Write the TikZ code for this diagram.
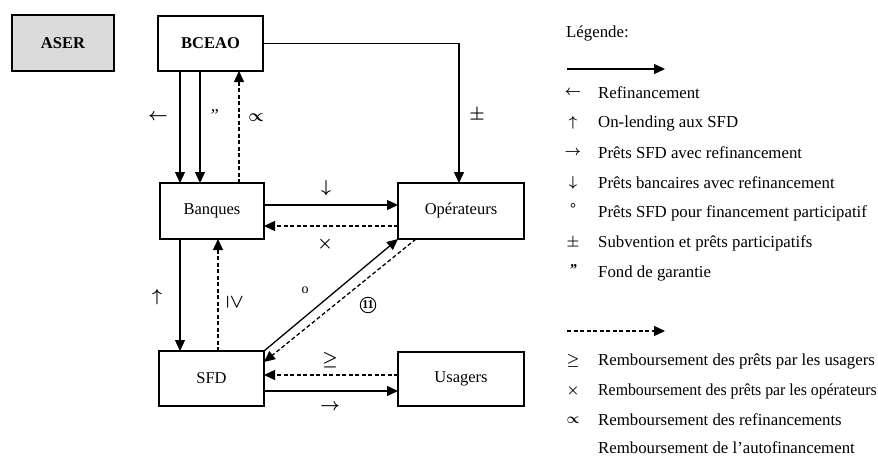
\documentclass[tikz,border=0pt]{standalone}
\usepackage{fontspec}
\usepackage{graphicx}
\setmainfont{Liberation Serif}
\usetikzlibrary{arrows.meta}
\begin{document}
\begin{tikzpicture}[x=1pt,y=-1pt,
  box/.style={draw,line width=1.1pt,outer sep=0pt,inner sep=0pt,font=\fontsize{16.5}{18}\selectfont},
  sarr/.style={line width=1.3pt,-{Triangle[length=11pt,width=10pt]}},
  darr/.style={line width=1.3pt,dash pattern=on 4pt off 2.5pt,-{Triangle[length=11pt,width=10pt]}},
  lab/.style={inner sep=0pt,font=\fontsize{18}{18}\selectfont\boldmath},
  lsym/.style={inner sep=0pt,font=\fontsize{15}{16}\selectfont\boldmath},
  ltxt/.style={anchor=west,inner sep=0pt,font=\fontsize{16.8}{18}\selectfont}]
\path[use as bounding box,fill=white] (0,0) rectangle (878,461);

% boxes
\node[box,fill=black!14,minimum width=102pt,minimum height=56pt] (aser) at (63,43) {\bfseries ASER};
\node[box,minimum width=105pt,minimum height=55pt] (bceao) at (210.5,43.5) {\bfseries BCEAO};
\node[box,minimum width=104pt,minimum height=56pt] (banq) at (212,211) {Banques};
\node[box,minimum width=126pt,minimum height=56pt] (oper) at (461,211) {Opérateurs};
\node[box,minimum width=105pt,minimum height=55pt] (sfd) at (211.5,378.5) {SFD};
\node[box,minimum width=126pt,minimum height=54pt] (usag) at (461,379) {Usagers};

% connectors
\draw[sarr] ([xshift=22pt]bceao.south west) -- ([xshift=22pt]bceao.south west |- banq.north);
\draw[sarr] ([xshift=42pt]bceao.south west) -- ([xshift=42pt]bceao.south west |- banq.north);
\draw[darr] ([xshift=79pt]banq.north west) -- ([xshift=79pt]banq.north west |- bceao.south);
\draw[sarr] (bceao.east) -| ([xshift=-2pt]oper.north);
\draw[sarr] ([yshift=6pt]banq.east) -- ([yshift=6pt]banq.east -| oper.west);
\draw[darr] ([yshift=-15pt]banq.east -| oper.west) -- ([yshift=-15pt]banq.east);
\draw[sarr] ([xshift=20pt]banq.south west) -- ([xshift=20pt]banq.south west |- sfd.north);
\draw[darr] ([xshift=58pt]banq.south west |- sfd.north) -- ([xshift=58pt]banq.south west);
\draw[sarr] (sfd.north east) -- (oper.south west);
\draw[darr] ([xshift=18pt]oper.south west) -- ([yshift=-11pt]sfd.north east);
\draw[darr] ([yshift=3.5pt]sfd.east -| usag.west) -- ([yshift=3.5pt]sfd.east);
\draw[sarr] ([yshift=-12.5pt]sfd.east) -- ([yshift=-12.5pt]sfd.east -| usag.west);

% connector labels
\node[lab] (l1) at (158,117) {$\leftarrow$};
\node[lab] (l2) at (214,116) {\itshape\char"22};
\node[lab] (l3) at (256,118) {$\propto$};
\node[lab] (l4) at (326,188) {$\downarrow$};
\node[lab] (l5) at (477,115) {$\pm$};
\node[lab] (l6) at (325,244) {$\times$};
\node[lab] (l7) at (157,297) {$\uparrow$};
\node[lab,rotate=-90] (l8) at (235,302) {$\geq$};
\node[lab,font=\fontsize{14}{14}\selectfont] (l9) at (305,290) {o};
\node[draw,circle,line width=0.9pt,inner sep=0.6pt,font=\fontsize{12}{12}\selectfont\bfseries] (l10) at (368,305) {11};
\node[lab] (l11) at (330,360) {$\geq$};
\node[lab] (l12) at (330,407) {$\rightarrow$};

% legend
\node[ltxt] (leg) at (566,33) {Légende:};
\coordinate (ls1) at (567,69);
\coordinate (le1) at (665,69);
\draw[sarr] (ls1) -- (le1);
\node[lsym] (s1) at (573,93) {$\leftarrow$};
\node[ltxt] (t1) at (598,93) {Refinancement};
\node[lsym] (s2) at (573,123) {$\uparrow$};
\node[ltxt] (t2) at (598,123) {On-lending aux SFD};
\node[lsym] (s3) at (573,153) {$\rightarrow$};
\node[ltxt] (t3) at (598,153) {Prêts SFD avec refinancement};
\node[lsym] (s4) at (573,183) {$\downarrow$};
\node[ltxt] (t4) at (598,183) {Prêts bancaires avec refinancement};
\node[lsym] (s5) at (573,209) {\bfseries °};
\node[ltxt] (t5) at (598,213) {Prêts SFD pour financement participatif};
\node[lsym] (s6) at (573,243) {$\pm$};
\node[ltxt] (t6) at (598,243) {Subvention et prêts participatifs};
\node[lsym] (s7) at (573,270) {\bfseries\itshape\char"22};
\node[ltxt] (t7) at (598,273) {Fond de garantie};
\coordinate (ls2) at (567,331);
\coordinate (le2) at (665,331);
\draw[darr] (ls2) -- (le2);
\node[lsym] (s8) at (573,361) {$\geq$};
\node[ltxt] (t8) at (598,361) {Remboursement des prêts par les usagers};
\node[lsym] (s9) at (573,391) {$\times$};
\node[ltxt] (t9) at (598,391) {\scalebox{0.94}[1]{Remboursement des prêts par les opérateurs}};
\node[lsym] (s10) at (573,420) {$\propto$};
\node[ltxt] (t10) at (598,420) {Remboursement des refinancements};
\node[ltxt] (t11) at (598,448) {Remboursement de l'autofinancement};
\end{tikzpicture}
\end{document}
